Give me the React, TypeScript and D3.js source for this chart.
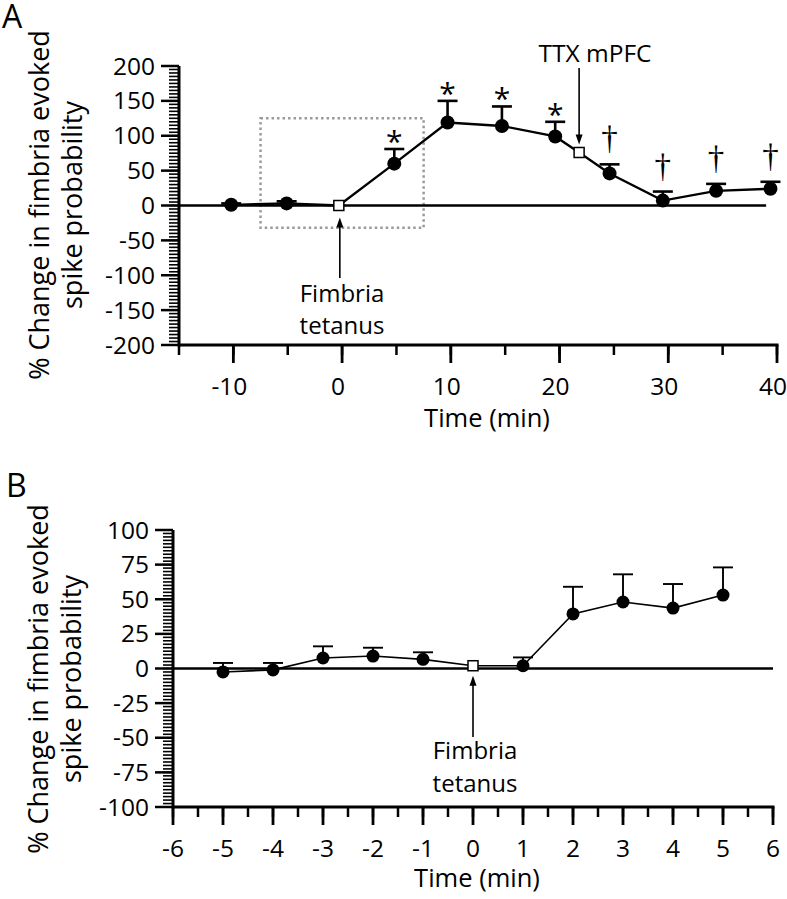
import React from "react";
import * as d3 from "d3";

// ---------- Panel A data ----------
const timeA = [-10.2, -5.1, -0.3, 4.8, 9.7, 14.7, 19.6, 21.8, 24.6, 29.5, 34.4, 39.4];
const meanA = [1, 3, 0, 60, 119, 114, 99, 76, 46, 7, 21, 24];
const semA = [2, 3, 0, 21, 31, 28, 21, 0, 13, 13, 10, 10];
const markerA = ["dot", "dot", "square", "dot", "dot", "dot", "dot", "square", "dot", "dot", "dot", "dot"];
const sigA = ["", "", "", "*", "*", "*", "*", "", "†", "†", "†", "†"];
const yTicksA = [-200, -150, -100, -50, 0, 50, 100, 150, 200];
const xTicksA = [-10, 0, 10, 20, 30, 40];
const boxA = { t0: -7.5, t1: 7.5, v0: -32, v1: 125 };

// ---------- Panel B data ----------
const timeB = [-5, -4, -3, -2, -1, 0, 1, 2, 3, 4, 5];
const meanB = [-2.5, -1, 7.6, 9, 6.6, 2, 2, 39.4, 48, 43.6, 53];
const semB = [6.5, 5, 8.4, 6, 5.1, 0, 6, 19.6, 20, 17.4, 20];
const markerB = ["dot", "dot", "dot", "dot", "dot", "square", "dot", "dot", "dot", "dot", "dot"];
const yTicksB = [-100, -75, -50, -25, 0, 25, 50, 75, 100];
const xTicksB = [-6, -5, -4, -3, -2, -1, 0, 1, 2, 3, 4, 5, 6];

const FONT = "'Open Sans', sans-serif";

const xA = d3.scaleLinear().domain([-15, 40]).range([179, 777]);
const yA = d3.scaleLinear().domain([-200, 200]).range([345, 66]);
const xB = d3.scaleLinear().domain([-6, 6]).range([173, 773]);
const yB = d3.scaleLinear().domain([-100, 100]).range([807, 530]);

function YAxis({ x, y, major, minorStep }: any) {
  const [d0, d1] = y.domain();
  const minor = d3.range(d0, d1 + 0.001, minorStep);
  return (
    <g>
      <line x1={x.range()[0]} x2={x.range()[0]} y1={y.range()[0] + 1.5} y2={y.range()[1]} stroke="#000" strokeWidth={3} />
      {minor.map((v: number, i: number) => (
        <line key={"m" + i} x1={x.range()[0] - 10} x2={x.range()[0]} y1={y(v)} y2={y(v)} stroke="#000" strokeWidth={1.6} />
      ))}
      {major.map((v: number) => (
        <g key={v}>
          <line x1={x.range()[0] - 18} x2={x.range()[0]} y1={y(v)} y2={y(v)} stroke="#000" strokeWidth={2.5} />
          <text x={x.range()[0] - 24} y={y(v) + 8.5} textAnchor="end" fontSize={24.5} fontFamily={FONT}>{v}</text>
        </g>
      ))}
    </g>
  );
}

function XAxis({ x, y, major, minorStep, labelBase, labels, labelShift }: any) {
  const [d0, d1] = x.domain();
  const minor = d3.range(d0, d1 + 0.001, minorStep);
  const y0 = y.range()[0];
  return (
    <g>
      <line x1={x.range()[0]} x2={x.range()[1] + 1.5} y1={y0} y2={y0} stroke="#000" strokeWidth={3} />
      {minor.map((v: number, i: number) => (
        <line key={"m" + i} x1={x(v)} x2={x(v)} y1={y0} y2={y0 + 10} stroke="#000" strokeWidth={2.5} />
      ))}
      {major.map((v: number) => (
        <line key={"M" + v} x1={x(v)} x2={x(v)} y1={y0} y2={y0 + 18} stroke="#000" strokeWidth={2.8} />
      ))}
      {labels.map((v: number) => (
        <text key={"t" + v} x={x(v) + labelShift} y={labelBase} textAnchor="middle" fontSize={24.5} fontFamily={FONT}>{v}</text>
      ))}
    </g>
  );
}

function Arrow({ x, yTip, yBase }: any) {
  const dir = yBase > yTip ? 1 : -1;
  return (
    <g>
      <line x1={x} x2={x} y1={yBase} y2={yTip + dir * 6} stroke="#000" strokeWidth={1.6} />
      <path d={`M${x},${yTip} L${x - 3.5},${yTip + dir * 10} L${x + 3.5},${yTip + dir * 10} Z`} fill="#000" />
    </g>
  );
}

function Series({ x, y, times, means, sems, markers, lineW, errW, r, sq }: any) {
  const line = d3.line<number>().x((_, i) => x(times[i])).y((d) => y(d));
  return (
    <g>
      <path d={line(means) || ""} fill="none" stroke="#000" strokeWidth={lineW} />
      {times.map((t: number, i: number) =>
        sems[i] > 0 ? (
          <g key={"e" + i}>
            <line x1={x(t)} x2={x(t)} y1={y(means[i])} y2={y(means[i] + sems[i])} stroke="#000" strokeWidth={errW} />
            <line x1={x(t) - 10} x2={x(t) + 10} y1={y(means[i] + sems[i])} y2={y(means[i] + sems[i])} stroke="#000" strokeWidth={errW} />
          </g>
        ) : null
      )}
      {times.map((t: number, i: number) =>
        markers[i] === "dot" ? (
          <circle key={"p" + i} cx={x(t)} cy={y(means[i])} r={r} fill="#000" />
        ) : (
          <rect key={"p" + i} x={x(t) - sq / 2} y={y(means[i]) - sq / 2} width={sq} height={sq} fill="#fff" stroke="#000" strokeWidth={1.5} />
        )
      )}
    </g>
  );
}

function YTitle({ cx, cy }: any) {
  return (
    <g fontFamily={FONT} fontSize={27} textAnchor="middle">
      <text transform={`translate(${cx[0]},${cy}) rotate(-90)`}>% Change in fimbria evoked</text>
      <text transform={`translate(${cx[1]},${cy}) rotate(-90)`}>spike probability</text>
    </g>
  );
}

export default function App() {
  const sqIdxA = 7;
  return (
    <svg width={787} height={899} style={{ position: "absolute", left: 0, top: 0, background: "#fff" }}>
      <rect width={787} height={899} fill="#fff" />
      {/* ---------- Panel A ---------- */}
      <text x={2} y={28} fontFamily={FONT} fontSize={32}>A</text>
      <YTitle cx={[49, 82]} cy={205} />
      <rect
        x={xA(boxA.t0)} y={yA(boxA.v1)} width={xA(boxA.t1) - xA(boxA.t0)} height={yA(boxA.v0) - yA(boxA.v1)}
        fill="none" stroke="#9a9a9a" strokeWidth={2.5} strokeDasharray="2.5,3"
      />
      <line x1={xA(-15)} x2={xA(39)} y1={yA(0)} y2={yA(0)} stroke="#000" strokeWidth={2.6} />
      <Series x={xA} y={yA} times={timeA} means={meanA} sems={semA} markers={markerA} lineW={2.3} errW={2.6} r={7} sq={10} />
      {timeA.map((t, i) =>
        sigA[i] === "*" ? (
          <text key={"s" + i} x={xA(t)} y={yA(meanA[i] + semA[i]) + 3} textAnchor="middle" fontFamily={FONT} fontSize={30}>*</text>
        ) : sigA[i] === "†" ? (
          <text key={"s" + i} x={xA(t)} y={yA(meanA[i] + semA[i]) - 15} textAnchor="middle" fontFamily="'Liberation Serif', serif" fontSize={33}>†</text>
        ) : null
      )}
      <Arrow x={xA(timeA[2]) + 1} yTip={yA(meanA[2]) + 12} yBase={278} />
      <text x={342} y={302} textAnchor="middle" fontFamily={FONT} fontSize={24}>Fimbria</text>
      <text x={342} y={334} textAnchor="middle" fontFamily={FONT} fontSize={24}>tetanus</text>
      <Arrow x={xA(timeA[sqIdxA])} yTip={yA(meanA[sqIdxA]) - 8} yBase={68} />
      <text x={595} y={62} textAnchor="middle" fontFamily={FONT} fontSize={24.5}>TTX mPFC</text>
      <YAxis x={xA} y={yA} major={yTicksA} minorStep={5} />
      <XAxis x={xA} y={yA} major={xTicksA} minorStep={5} labelBase={395} labels={xTicksA} labelShift={-4} />
      <text x={487} y={427} textAnchor="middle" fontFamily={FONT} fontSize={25.5}>Time (min)</text>

      {/* ---------- Panel B ---------- */}
      <text x={6} y={497} fontFamily={FONT} fontSize={32}>B</text>
      <YTitle cx={[48, 81]} cy={679} />
      <line x1={xB(-6)} x2={xB(6)} y1={yB(0)} y2={yB(0)} stroke="#000" strokeWidth={2.6} />
      <Series x={xB} y={yB} times={timeB} means={meanB} sems={semB} markers={markerB} lineW={1.6} errW={1.9} r={6.5} sq={10} />
      <Arrow x={xB(0)} yTip={yB(meanB[5]) + 10} yBase={737} />
      <text x={475} y={759} textAnchor="middle" fontFamily={FONT} fontSize={24}>Fimbria</text>
      <text x={475} y={792} textAnchor="middle" fontFamily={FONT} fontSize={24}>tetanus</text>
      <YAxis x={xB} y={yB} major={yTicksB} minorStep={2.5} />
      <XAxis x={xB} y={yB} major={xTicksB} minorStep={0.5} labelBase={857} labels={xTicksB} labelShift={0} />
      <text x={477} y={887} textAnchor="middle" fontFamily={FONT} fontSize={25.5}>Time (min)</text>
    </svg>
  );
}
